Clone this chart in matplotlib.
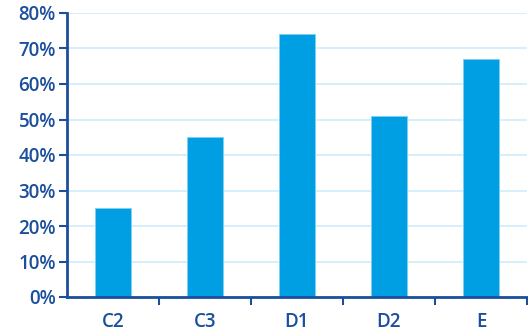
import matplotlib.pyplot as plt
import numpy as np
from matplotlib.ticker import MultipleLocator, FuncFormatter

categories = ["C2", "C3", "D1", "D2", "E"]
values = [25, 45, 74, 51, 67]

axis_blue = "#1b4f9c"
bar_blue = "#009fe3"
grid_blue = "#d0ecf9"

plt.rcParams['font.family'] = ['Open Sans', 'DejaVu Sans']

fig = plt.figure(figsize=(5.28, 3.34), dpi=100)
ax = fig.add_axes([67 / 528, 1 - 297 / 334, 460 / 528, 284 / 334])

x = np.arange(len(categories))
ax.bar(x, values, width=0.4, color=bar_blue, edgecolor="#7fd0f2", linewidth=0.6, zorder=3)

ax.set_xlim(-0.5, len(categories) - 0.5)
ax.set_ylim(0, 80)
ax.yaxis.set_major_locator(MultipleLocator(10))
ax.yaxis.set_major_formatter(FuncFormatter(lambda v, p: "{0:.0f}%".format(v)))
ax.yaxis.grid(True, color=grid_blue, linewidth=1.2, zorder=0)

# category labels centred, ticks on the slot boundaries
ax.set_xticks(x)
ax.set_xticklabels(categories)
ax.tick_params(axis="x", which="major", length=0, pad=11)
ax.set_xticks(np.arange(0.5, len(categories), 1.0), minor=True)
ax.tick_params(axis="x", which="minor", length=6, width=1.5, color=axis_blue, direction="out")
ax.tick_params(axis="y", length=6, width=1.5, color=axis_blue, pad=2)
ax.tick_params(labelsize=13.5, labelcolor=axis_blue)
for lbl in ax.get_xticklabels() + ax.get_yticklabels():
    lbl.set_fontweight("semibold")

for side in ["top", "right"]:
    ax.spines[side].set_visible(False)
for side in ["left", "bottom"]:
    ax.spines[side].set_color(axis_blue)
    ax.spines[side].set_linewidth(2)
    ax.spines[side].set_zorder(4)

fig.savefig("out.png", dpi=100)
